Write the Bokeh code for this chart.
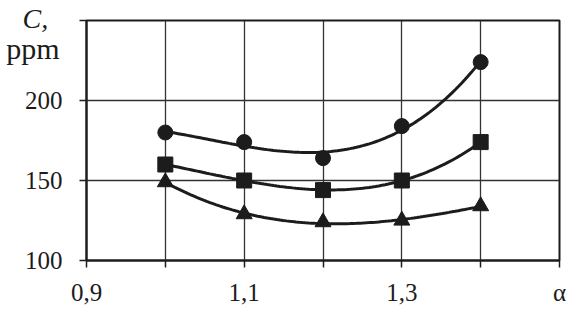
import numpy as np
from bokeh.plotting import figure
from bokeh.models import Range1d, FixedTicker, LinearAxis
from bokeh.embed import file_html
from bokeh.resources import INLINE

alpha = [1.0, 1.1, 1.2, 1.3, 1.4]
circles = [180, 174, 164, 184, 224]
squares = [160, 150, 144, 150, 174]
triangles = [149, 129, 124, 125, 134]

x_ticks = [0.9, 1.0, 1.1, 1.2, 1.3, 1.4, 1.5]
x_labels = {0.9: "0,9", 1.0: "", 1.1: "1,1", 1.2: "", 1.3: "1,3", 1.4: "", 1.5: "α"}
y_ticks = [100, 150, 200, 250]
y_labels = {100: "100", 150: "150", 200: "200", 250: ""}
unit_pos = 232.5
unit_label = "ppm"
quantity = "C,"

FONT = "Liberation Serif"
INK = "#1c1c1c"
FS = "25px"

p = figure(width=577, height=320, output_backend="svg", toolbar_location=None,
           x_range=Range1d(0.9, 1.5), y_range=Range1d(100, 250),
           min_border_left=86, min_border_right=18, min_border_top=20, min_border_bottom=60)
p.background_fill_color = "white"
p.border_fill_color = "white"
p.outline_line_color = INK
p.outline_line_width = 2

for ax in (p.xaxis[0], p.yaxis[0]):
    ax.axis_line_color = INK
    ax.axis_line_width = 2
    ax.major_tick_line_color = INK
    ax.major_tick_line_width = 1.5
    ax.major_tick_out = 7
    ax.major_tick_in = 0
    ax.minor_tick_line_color = None
    ax.major_label_text_font = FONT
    ax.major_label_text_font_size = FS
    ax.major_label_text_color = INK

p.xaxis[0].ticker = FixedTicker(ticks=x_ticks)
p.xaxis[0].major_label_overrides = x_labels
p.xaxis[0].major_label_standoff = 11

p.yaxis[0].ticker = FixedTicker(ticks=y_ticks)
p.yaxis[0].major_label_overrides = y_labels
p.yaxis[0].major_label_standoff = 17

# unit label, on an outer axis with no line or ticks
unit_axis = LinearAxis(ticker=FixedTicker(ticks=[unit_pos]),
                       major_label_overrides={unit_pos: unit_label},
                       axis_line_color=None, major_tick_line_color=None,
                       minor_tick_line_color=None, major_tick_out=0, major_tick_in=0,
                       minor_tick_out=0, minor_tick_in=0, major_label_standoff=-38,
                       major_label_text_font=FONT, major_label_text_font_size="30px",
                       major_label_text_color=INK)
p.add_layout(unit_axis, "left")

p.xgrid[0].ticker = FixedTicker(ticks=x_ticks[1:-1])
p.ygrid[0].ticker = FixedTicker(ticks=[150, 200])
for g in (p.xgrid[0], p.ygrid[0]):
    g.grid_line_color = "#333333"
    g.grid_line_width = 1.3

xs = np.linspace(alpha[0], alpha[-1], 100)
for ys in (circles, squares, triangles):
    coef = np.polyfit(alpha, ys, 3)
    p.line(xs, np.polyval(coef, xs), line_color=INK, line_width=3)

p.scatter(alpha, circles, marker="circle", size=15, fill_color=INK, line_color=INK)
p.scatter(alpha, squares, marker="square", size=15, fill_color=INK, line_color=INK)
p.scatter(alpha, triangles, marker="triangle", size=16, fill_color=INK, line_color=INK)

# quantity symbol above the unit, left of the frame
p.title.text = quantity
p.title.align = "left"
p.title.offset = -64
p.title.standoff = -26
p.title.vertical_align = "bottom"
p.title.text_font = FONT
p.title.text_font_size = "28px"
p.title.text_font_style = "italic"
p.title.text_color = INK

open("out.html", "w").write(file_html(p, INLINE))
